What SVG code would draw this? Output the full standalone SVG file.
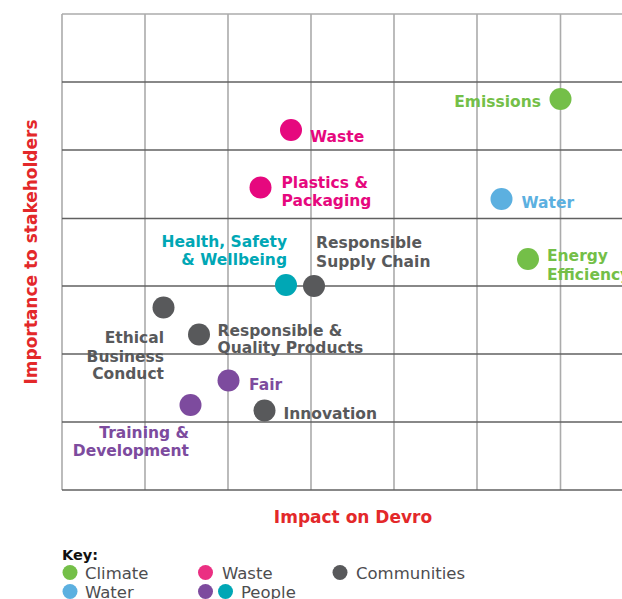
<svg xmlns="http://www.w3.org/2000/svg" width="622" height="599" viewBox="0 0 622 599">
<style>
.v{stroke:#ababab;stroke-width:1.6;fill:none}
.h{stroke:#606060;stroke-width:1.3;fill:none}
.lbl{font-family:"DejaVu Sans",sans-serif;font-weight:bold;font-size:15.5px}
.axis{font-family:"DejaVu Sans",sans-serif;font-weight:bold;font-size:17px;fill:#e3282a}
.key{font-family:"DejaVu Sans",sans-serif;font-size:16.5px;fill:#4d4d4f}
.green{fill:#74bf48}.pink{fill:#e6087e}.blue{fill:#5cb0e0}.teal{fill:#00a7b5}.gray{fill:#58595b}.purple{fill:#7d4b9e}
.end{text-anchor:end}
</style>
<rect width="622" height="599" fill="#ffffff"/>
<g id="grid">
<line class="v" x1="62" y1="14" x2="62" y2="490"/>
<line class="v" x1="145" y1="14" x2="145" y2="490"/>
<line class="v" x1="228" y1="14" x2="228" y2="490"/>
<line class="v" x1="311" y1="14" x2="311" y2="490"/>
<line class="v" x1="394" y1="14" x2="394" y2="490"/>
<line class="v" x1="477" y1="14" x2="477" y2="490"/>
<line class="v" x1="560.5" y1="14" x2="560.5" y2="490"/>
<line class="v" x1="62" y1="14" x2="622" y2="14"/>
<line class="h" x1="62" y1="82" x2="622" y2="82"/>
<line class="h" x1="62" y1="150" x2="622" y2="150"/>
<line class="h" x1="62" y1="218.5" x2="622" y2="218.5"/>
<line class="h" x1="62" y1="286" x2="622" y2="286"/>
<line class="h" x1="62" y1="354" x2="622" y2="354"/>
<line class="h" x1="62" y1="422" x2="622" y2="422"/>
<line class="h" x1="62" y1="490" x2="622" y2="490"/>
</g>
<g id="axes">
<text class="axis" x="353" y="523" text-anchor="middle">Impact on Devro</text>
<text class="axis" transform="translate(37,252) rotate(-90)" text-anchor="middle">Importance to stakeholders</text>
</g>
<g id="connectors"></g>
<g id="emissions"><circle class="green" cx="560.5" cy="99" r="11"/><text class="lbl green end" x="541" y="106.5">Emissions</text></g>
<g id="waste"><circle class="pink" cx="291" cy="130" r="11"/><text class="lbl pink" x="310" y="141.5">Waste</text></g>
<g id="plastics"><circle class="pink" cx="260.5" cy="187.5" r="11"/><text class="lbl pink" x="281.5" y="188">Plastics &amp;</text><text class="lbl pink" x="281.5" y="206">Packaging</text></g>
<g id="water"><circle class="blue" cx="501.5" cy="199" r="11"/><text class="lbl blue" x="521.5" y="207.5">Water</text></g>
<g id="energy"><circle class="green" cx="528" cy="259" r="11"/><text class="lbl green" x="547" y="261">Energy</text><text class="lbl green" x="547" y="279.5">Efficiency</text></g>
<g id="health"><circle class="teal" cx="286" cy="285" r="11"/><text class="lbl teal end" x="287" y="246.5">Health, Safety</text><text class="lbl teal end" x="287" y="265">&amp; Wellbeing</text></g>
<g id="supply"><circle class="gray" cx="314" cy="286" r="11"/><text class="lbl gray" x="316" y="248">Responsible</text><text class="lbl gray" x="316" y="266.5">Supply Chain</text></g>
<g id="ethical"><circle class="gray" cx="163.5" cy="307.5" r="11"/><text class="lbl gray end" x="164" y="343">Ethical</text><text class="lbl gray end" x="164" y="361.5">Business</text><text class="lbl gray end" x="164" y="379">Conduct</text></g>
<g id="quality"><circle class="gray" cx="199" cy="334.5" r="11"/><text class="lbl gray" x="217.5" y="335.5">Responsible &amp;</text><text class="lbl gray" x="217.5" y="353">Quality Products</text></g>
<g id="fair"><circle class="purple" cx="228.5" cy="380.5" r="11"/><text class="lbl purple" x="249" y="390">Fair</text></g>
<g id="training"><circle class="purple" cx="190.5" cy="405" r="11"/><text class="lbl purple end" x="189" y="437.5">Training &amp;</text><text class="lbl purple end" x="189" y="455.5">Development</text></g>
<g id="innovation"><circle class="gray" cx="264.5" cy="410.5" r="11"/><text class="lbl gray" x="283.5" y="419">Innovation</text></g>
<g id="key">
<text x="62" y="560" font-family="DejaVu Sans, sans-serif" font-weight="bold" font-size="14.5" fill="#111111">Key:</text>
<circle class="green" cx="70" cy="572.5" r="7.5"/><text class="key" x="85" y="578.5">Climate</text>
<circle class="blue" cx="70" cy="591.5" r="7.5"/><text class="key" x="85" y="597.5">Water</text>
<circle fill="#eb2f82" cx="205.5" cy="572.5" r="7.5"/><text class="key" x="222" y="578.5">Waste</text>
<circle class="purple" cx="205.5" cy="591.5" r="7.5"/><circle class="teal" cx="225.5" cy="591.5" r="7.5"/><text class="key" x="241" y="597.5">People</text>
<circle class="gray" cx="340" cy="572.5" r="7.5"/><text class="key" x="356" y="578.5">Communities</text>
</g>
</svg>
